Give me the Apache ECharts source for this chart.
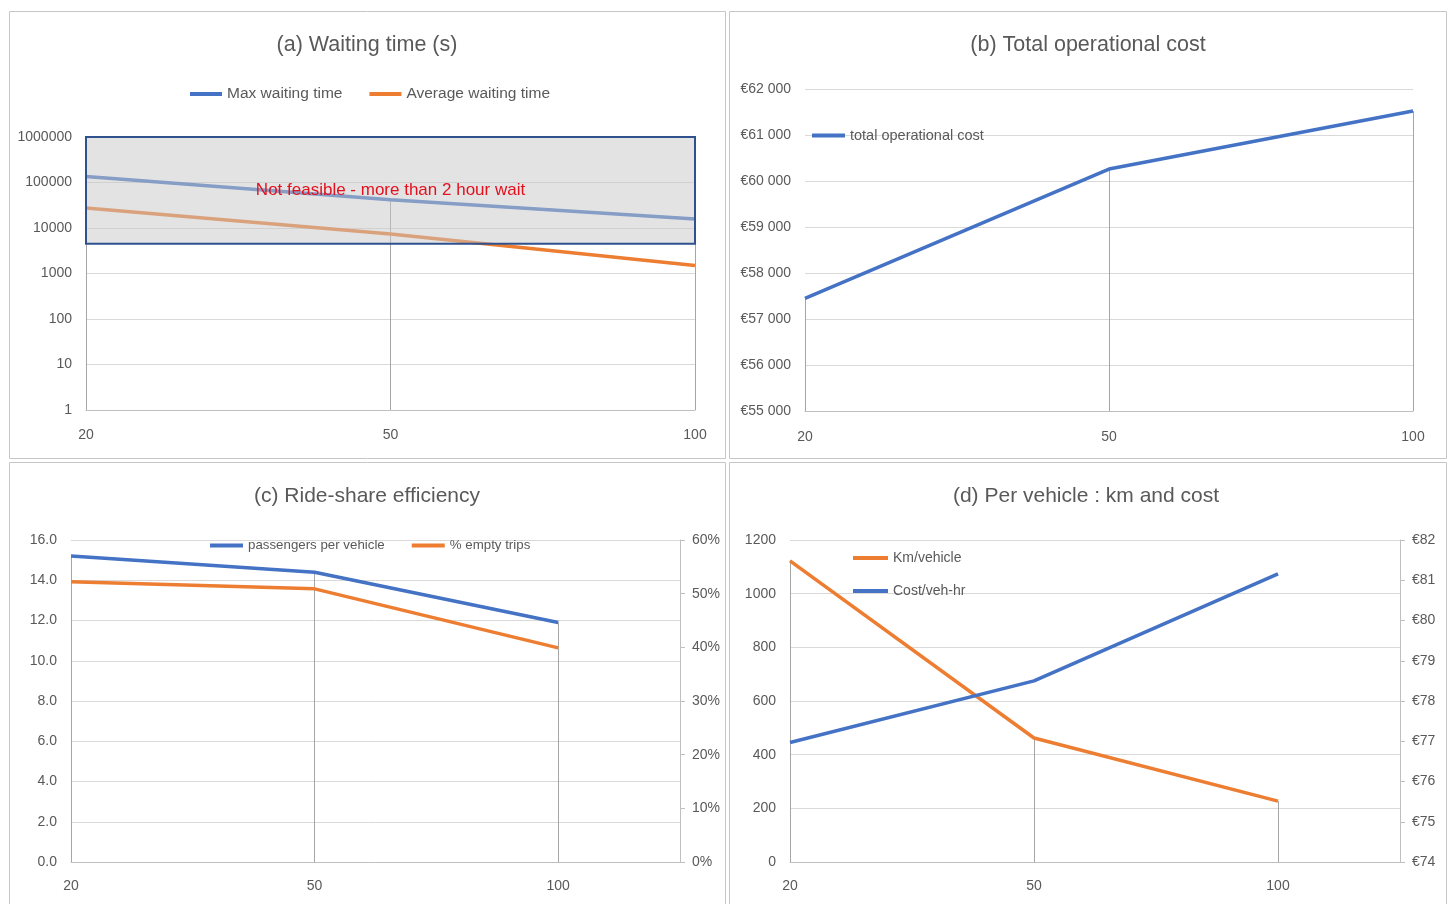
<!DOCTYPE html>
<html>
<head>
<meta charset="utf-8">
<script src="https://cdn.jsdelivr.net/npm/echarts@6/dist/echarts.min.js"></script>
<style>
html,body{margin:0;padding:0;background:#fff;}
#c{width:1450px;height:904px;}
</style>
</head>
<body>
<div id="c"></div>
<script>
// ---- data ----
const xLabels = ['20', '50', '100'];
const maxWait = [135000, 42000, 15800];
const avgWait = [27500, 7400, 1500];
const infeasibleBand = [4500, 1000000];
const infeasibleText = 'Not feasible - more than 2 hour wait';
const totalCost = [57450, 60260, 61520];
const paxPerVeh = [15.2, 14.4, 11.9];
const emptyTrips = [0.522, 0.509, 0.399];
const kmPerVeh = [1122, 462, 227];
const costPerVehHr = [76.97, 78.5, 81.16];
const titles = ['(a) Waiting time (s)', '(b) Total operational cost', '(c) Ride-share efficiency', '(d) Per vehicle : km and cost'];

// ---- style ----
const FONT = '"Liberation Sans", Arial, sans-serif';
const TXT = '#595959';
const GRID = '#d9d9d9';
const BLUE = '#4472c4';
const ORANGE = '#ed7d31';
const DROP = '#a6a6a6';

const chart = echarts.init(document.getElementById('c'));

const labelStyle = {color: TXT, fontFamily: FONT, fontSize: 14};
function catX(grid, margin) {
  return {type: 'category', gridIndex: grid, data: xLabels, boundaryGap: false,
    axisLine: {show: true, lineStyle: {color: '#bfbfbf', width: 1}},
    axisTick: {show: false}, splitLine: {show: false},
    axisLabel: Object.assign({margin: margin}, labelStyle)};
}
function idxX(grid, margin) {
  return {type: 'value', gridIndex: grid, min: 0, max: 2.5, interval: 1,
    axisLine: {show: true, lineStyle: {color: '#bfbfbf', width: 1}},
    axisTick: {show: false}, splitLine: {show: false},
    axisLabel: Object.assign({margin: margin,
      formatter: v => (Number.isInteger(v) && xLabels[v] !== undefined) ? xLabels[v] : ''}, labelStyle)};
}
function leftY(grid, extra) {
  return Object.assign({type: 'value', gridIndex: grid, position: 'left',
    axisLine: {show: false}, axisTick: {show: false},
    splitLine: {show: true, lineStyle: {color: GRID, width: 1}},
    axisLabel: Object.assign({margin: 14}, labelStyle)}, extra);
}
function rightY(grid, extra) {
  return Object.assign({type: 'value', gridIndex: grid, position: 'right',
    axisLine: {show: true, lineStyle: {color: '#bfbfbf', width: 1}},
    axisTick: {show: true, inside: false, length: 5, lineStyle: {color: '#bfbfbf'}},
    splitLine: {show: false},
    axisLabel: Object.assign({margin: 12}, labelStyle)}, extra);
}
function drops(vals, xOf, minY) {
  return vals.map((v, i) => [{coord: [xOf(i), v]}, {coord: [xOf(i), minY]}]);
}
function dropLine(vals, xOf, minY) {
  return {silent: true, symbol: ['none', 'none'], z: 1,
    lineStyle: {color: DROP, width: 1, type: 'solid'},
    label: {show: false}, emphasis: {disabled: true},
    data: drops(vals, xOf, minY)};
}
const lineBase = {type: 'line', symbol: 'none', smooth: false, z: 3};

const legendText = sz => ({color: TXT, fontFamily: FONT, fontSize: sz});

const option = {
  backgroundColor: '#fff',
  animation: false,
  graphic: [
    {type: 'rect', shape: {x: 9.5, y: 11.5, width: 716, height: 447}, style: {fill: 'none', stroke: '#c6c6c6', lineWidth: 1}},
    {type: 'rect', shape: {x: 729.5, y: 11.5, width: 717, height: 447}, style: {fill: 'none', stroke: '#c6c6c6', lineWidth: 1}},
    {type: 'rect', shape: {x: 9.5, y: 462.5, width: 716, height: 460}, style: {fill: 'none', stroke: '#c6c6c6', lineWidth: 1}},
    {type: 'rect', shape: {x: 729.5, y: 462.5, width: 717, height: 460}, style: {fill: 'none', stroke: '#c6c6c6', lineWidth: 1}}
  ],
  title: [
    {text: titles[0], left: 367, top: 34, size: 21.5},
    {text: titles[1], left: 1088, top: 34, size: 21.5},
    {text: titles[2], left: 367, top: 486, size: 21},
    {text: titles[3], left: 1086, top: 486, size: 21}
  ].map(t => ({text: t.text, left: t.left, top: t.top, textAlign: 'center', padding: 0,
      textStyle: {color: TXT, fontFamily: FONT, fontSize: t.size, fontWeight: 'normal'}})),
  legend: [
    {data: ['Max waiting time', 'Average waiting time'], left: 190, top: 86, itemGap: 27, itemWidth: 32, textStyle: legendText(15.5)},
    {data: ['total operational cost'], left: 812, top: 128, textStyle: legendText(14.5)},
    {data: ['passengers per vehicle', '% empty trips'], left: 210, top: 539, itemGap: 27, textStyle: legendText(13.3)},
    {data: ['Km/vehicle', 'Cost/veh-hr'], left: 853, top: 551, orient: 'vertical', itemGap: 19, itemWidth: 35, textStyle: legendText(14)}
  ].map(l => Object.assign({icon: 'rect', itemWidth: 33, itemHeight: 4, itemGap: 27, selectedMode: false, padding: 0}, l)),
  grid: [
    {left: 86, top: 137, width: 609, height: 273},
    {left: 805, top: 89, width: 608, height: 322},
    {left: 71, top: 540, width: 609, height: 322},
    {left: 790, top: 540, width: 610, height: 322}
  ],
  xAxis: [catX(0, 18), catX(1, 19), idxX(2, 17), idxX(3, 17)],
  yAxis: [
    leftY(0, {type: 'log', logBase: 10, min: 1, max: 1000000,
      axisLabel: Object.assign({margin: 14, formatter: v => String(Math.round(v))}, labelStyle)}),
    leftY(1, {min: 55000, max: 62000, interval: 1000,
      axisLabel: Object.assign({margin: 14, formatter: v => '€' + String(Math.round(v / 1000)) + ' 000'}, labelStyle)}),
    leftY(2, {min: 0, max: 16, interval: 2,
      axisLabel: Object.assign({margin: 14, formatter: v => v.toFixed(1)}, labelStyle)}),
    rightY(2, {min: 0, max: 0.6, interval: 0.1,
      axisLabel: Object.assign({margin: 12, formatter: v => Math.round(v * 100) + '%'}, labelStyle)}),
    leftY(3, {min: 0, max: 1200, interval: 200,
      axisLabel: Object.assign({margin: 14, formatter: v => String(Math.round(v))}, labelStyle)}),
    rightY(3, {min: 74, max: 82, interval: 1,
      axisLabel: Object.assign({margin: 12, formatter: v => '€' + Math.round(v)}, labelStyle)})
  ],
  series: [
    Object.assign({}, lineBase, {name: 'Max waiting time', xAxisIndex: 0, yAxisIndex: 0, data: maxWait,
      lineStyle: {color: BLUE, width: 3.5}, itemStyle: {color: BLUE},
      markLine: dropLine(maxWait, i => xLabels[i], 1),
      markArea: {silent: true, z: 10,
        itemStyle: {color: 'rgba(200,200,200,0.5)', borderColor: '#2f528f', borderWidth: 2},
        label: {show: true, position: 'inside', color: '#e3101e', fontFamily: FONT, fontSize: 17},
        data: [[{name: infeasibleText, xAxis: xLabels[0], yAxis: infeasibleBand[0]},
                {xAxis: xLabels[xLabels.length - 1], yAxis: infeasibleBand[1]}]]}}),
    Object.assign({}, lineBase, {name: 'Average waiting time', xAxisIndex: 0, yAxisIndex: 0, data: avgWait,
      lineStyle: {color: ORANGE, width: 3.5}, itemStyle: {color: ORANGE}}),
    Object.assign({}, lineBase, {name: 'total operational cost', xAxisIndex: 1, yAxisIndex: 1, data: totalCost,
      lineStyle: {color: BLUE, width: 3.5}, itemStyle: {color: BLUE},
      markLine: dropLine(totalCost, i => xLabels[i], 55000)}),
    Object.assign({}, lineBase, {name: 'passengers per vehicle', xAxisIndex: 2, yAxisIndex: 2,
      data: paxPerVeh.map((v, i) => [i, v]),
      lineStyle: {color: BLUE, width: 3.5}, itemStyle: {color: BLUE},
      markLine: dropLine(paxPerVeh, i => i, 0)}),
    Object.assign({}, lineBase, {name: '% empty trips', xAxisIndex: 2, yAxisIndex: 3,
      data: emptyTrips.map((v, i) => [i, v]),
      lineStyle: {color: ORANGE, width: 3.5}, itemStyle: {color: ORANGE}}),
    Object.assign({}, lineBase, {name: 'Km/vehicle', xAxisIndex: 3, yAxisIndex: 4,
      data: kmPerVeh.map((v, i) => [i, v]),
      lineStyle: {color: ORANGE, width: 3.5}, itemStyle: {color: ORANGE},
      markLine: dropLine(kmPerVeh, i => i, 0)}),
    Object.assign({}, lineBase, {name: 'Cost/veh-hr', xAxisIndex: 3, yAxisIndex: 5,
      data: costPerVehHr.map((v, i) => [i, v]),
      lineStyle: {color: BLUE, width: 3.5}, itemStyle: {color: BLUE}})
  ]
};
chart.setOption(option);
</script>
</body>
</html>
